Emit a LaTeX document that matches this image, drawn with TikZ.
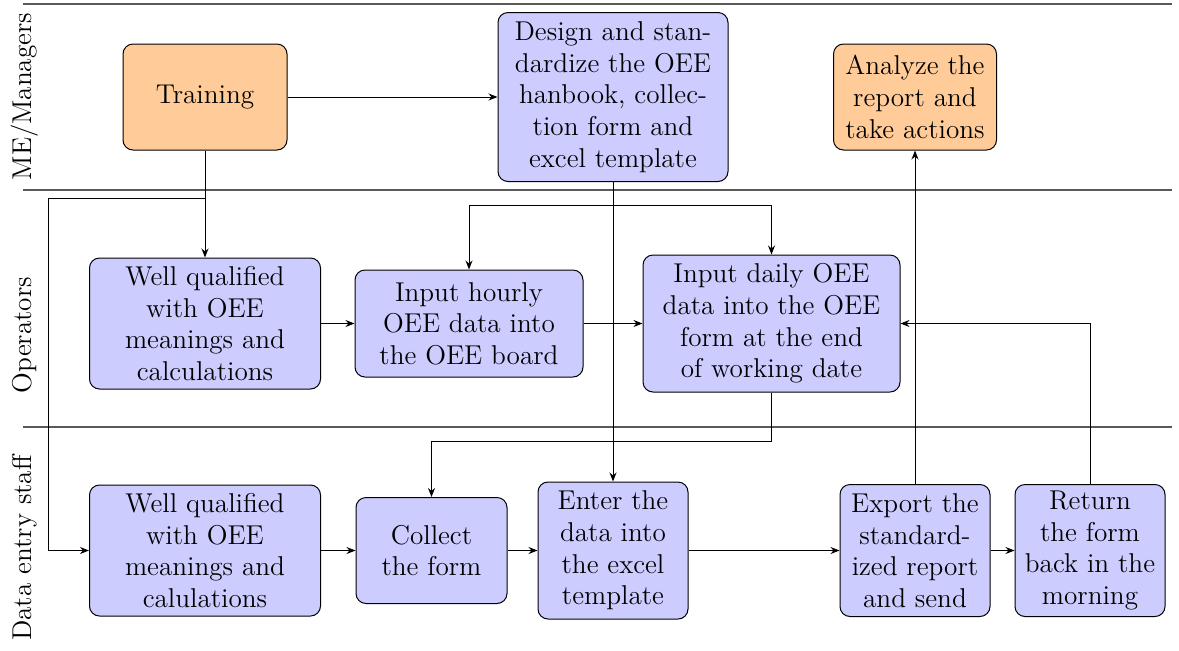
\documentclass[tikz,border=0pt]{standalone}
\usetikzlibrary{arrows.meta}
\begin{document}
\begin{tikzpicture}[x=0.5pt,y=-0.5pt,
  font=\fontsize{13.6}{15.8}\selectfont,
  box/.style={draw, rounded corners=5pt, align=center, inner sep=2pt, line width=0.5pt},
  obox/.style={box, fill=orange!40},
  bbox/.style={box, fill=blue!20},
  conn/.style={line width=0.5pt, -{Stealth[length=4.5pt,width=3.5pt]}},
  lane/.style={line width=1pt, black!65},
]
\useasboundingbox (0,0) rectangle (1179,650);
% lanes
\draw[lane] (23,4) -- (1172,4);
\draw[lane] (23,190) -- (1172,190);
\draw[lane] (23,427) -- (1172,427);
\node[rotate=90] (l1) at (25,96.5) {ME/Managers};
\node[rotate=90] (l2) at (25,335) {Operators};
\node[rotate=90] (l3) at (25,548) {Data entry staff};
% nodes
\node[obox, minimum width=82pt, minimum height=53pt] (train) at (205,97) {Training};
\node[bbox, minimum width=115pt, minimum height=84.5pt] (design) at (613,97) {Design and stan-\\dardize the OEE\\hanbook, collec-\\tion form and\\excel template};
\node[obox, minimum width=81.5pt, minimum height=53pt] (analyze) at (915,97) {Analyze the\\report and\\take actions};
\node[bbox, minimum width=115.5pt, minimum height=65.5pt] (wqo) at (205,323.5) {Well qualified\\with OEE\\meanings and\\calculations};
\node[bbox, minimum width=114pt, minimum height=53.5pt] (hourly) at (469,323.5) {Input hourly\\OEE data into\\the OEE board};
\node[bbox, minimum width=128.5pt, minimum height=68.5pt] (daily) at (771.5,323.5) {Input daily OEE\\data into the OEE\\form at the end\\of working date};
\node[bbox, minimum width=115.5pt, minimum height=65.5pt] (wqd) at (205,550.5) {Well qualified\\with OEE\\meanings and\\calulations};
\node[bbox, minimum width=75.5pt, minimum height=53pt] (collect) at (431.5,550.5) {Collect\\the form};
\node[bbox, minimum width=75pt, minimum height=68.5pt] (enter) at (613,550.5) {Enter the\\data into\\the excel\\template};
\node[bbox, minimum width=75pt, minimum height=66pt] (export) at (915,550.5) {Export the\\standard-\\ized report\\and send};
\node[bbox, minimum width=75pt, minimum height=66pt] (return) at (1090,550.5) {Return\\the form\\back in the\\morning};
% connectors
\coordinate (tb) at (205,198);
\coordinate (lb) at (48,198);
\coordinate (db) at (613,205);
\coordinate (dc) at (771.5,441);
\draw[conn] (train) -- (design);
\draw[conn] (train) -- (wqo);
\draw[conn] (tb) -- (lb) |- (wqd.west);
\draw[conn] (wqo) -- (hourly);
\draw[conn] (hourly) -- (daily);
\draw[conn] (design) -- (enter);
\draw[conn] (db) -| (hourly.north);
\draw[conn] (db) -| (daily.north);
\draw[conn] (daily.south) -- (dc) -| (collect.north);
\draw[conn] (wqd) -- (collect);
\draw[conn] (collect) -- (enter);
\draw[conn] (enter) -- (export);
\draw[conn] (export) -- (return);
\draw[conn] (export) -- (analyze);
\draw[conn] (return.north) |- (daily.east);
\end{tikzpicture}
\end{document}
